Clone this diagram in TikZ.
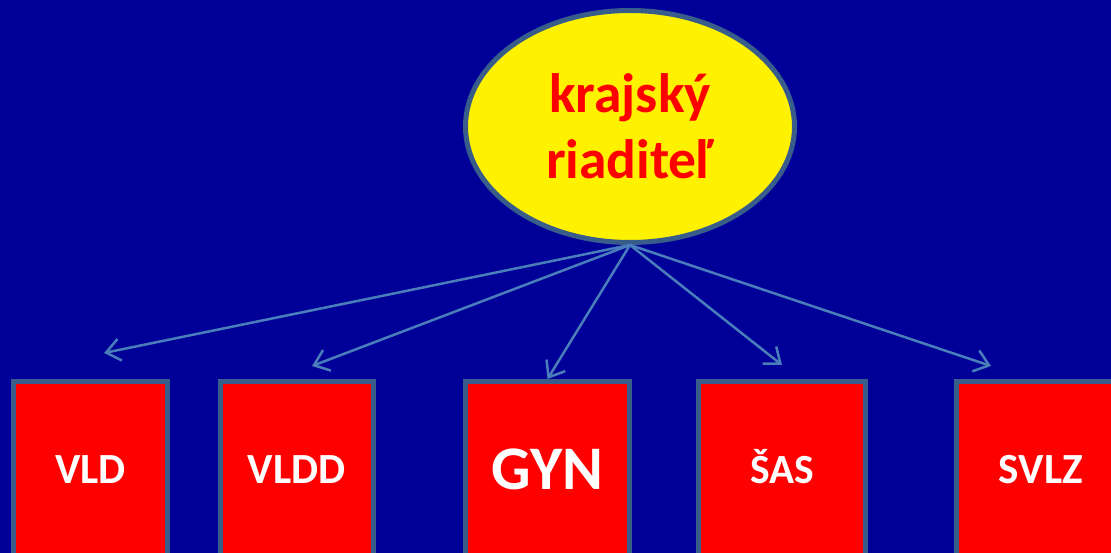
\documentclass[tikz,border=0pt]{standalone}
\usepackage{fontspec}
\setmainfont{Carlito}
\usetikzlibrary{arrows.meta,shapes.geometric}
\definecolor{bgblue}{RGB}{0,0,153}
\definecolor{edgeblue}{RGB}{56,93,138}
\definecolor{arrowblue}{RGB}{74,126,187}
\tikzset{
  unitbox/.style={draw=edgeblue, line width=5pt, fill=red, text=white,
    inner sep=0pt, font=\bfseries\fontsize{43}{50}\selectfont,
    text height=27.5pt, text depth=0pt, minimum height=177pt},
  bossnode/.style={ellipse, draw=edgeblue, line width=5pt, fill=yellow,
    text=red, inner sep=0pt, align=center,
    font=\bfseries\fontsize{55.5}{66}\selectfont,
    minimum width=329pt, minimum height=232pt},
  link/.style={draw=arrowblue, line width=2.5pt,
    -{Straight Barb[length=14pt,width=22pt]}}
}
\begin{document}
\begin{tikzpicture}[x=1pt,y=-1pt]
\useasboundingbox (0,0) rectangle (1111,553);
\fill[bgblue] (0,0) rectangle (1111,553);

\node[bossnode] (boss) at (630,126.5) {krajský\\riaditeľ};

\node[unitbox, minimum width=154pt] (vld) at (90.5,470) {VLD};
\node[unitbox, minimum width=152.5pt] (vldd) at (296.75,470) {VLDD};
\node[unitbox, minimum width=164pt, font=\bfseries\fontsize{62}{70}\selectfont, text height=39pt] (gyn) at (547.5,470) {GYN};
\node[unitbox, minimum width=167pt, font=\bfseries\fontsize{41.5}{48}\selectfont, text height=26pt] (sas) at (782,470) {ŠAS};
\node[unitbox, minimum width=169pt] (svlz) at (1041,470) {SVLZ};

\coordinate (tvld) at (104,353);
\coordinate (tvldd) at (312,366);
\coordinate (tsas) at (782,365);
\coordinate (tsvlz) at (991,366);

\draw[link] (boss.south) -- (tvld);
\draw[link] (boss.south) -- (tvldd);
\draw[link] (boss.south) -- (gyn.north);
\draw[link] (boss.south) -- (tsas);
\draw[link] (boss.south) -- (tsvlz);
\end{tikzpicture}
\end{document}
